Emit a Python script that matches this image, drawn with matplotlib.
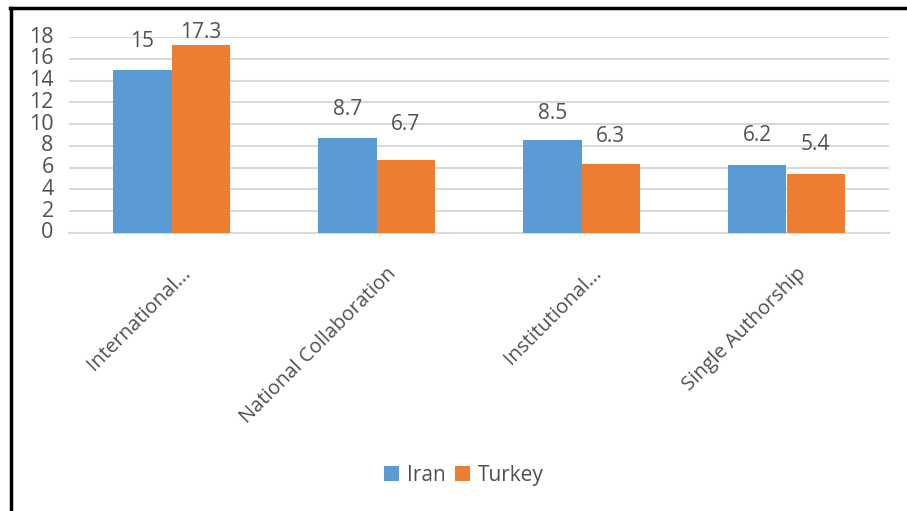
import numpy as np
import matplotlib
matplotlib.use("Agg")
import matplotlib.pyplot as plt
from matplotlib.lines import Line2D
from matplotlib.transforms import ScaledTranslation

# chart data
categories = ["International...", "National Collaboration", "Institutional...", "Single Authorship"]
iran = [15, 8.7, 8.5, 6.2]
turkey = [17.3, 6.7, 6.3, 5.4]
yticks = [0, 2, 4, 6, 8, 10, 12, 14, 16, 18]

blue = "#5B9BD5"
orange = "#ED7D31"
txt = "#505050"
grid = "#D9D9D9"

plt.rcParams['font.family'] = ['Open Sans', 'DejaVu Sans']

fig = plt.figure(figsize=(9.07, 5.11), dpi=100)
ax = fig.add_axes([69/907, 1-233/511, 820/907, 196/511])

x = np.arange(len(categories))
w = 0.283
b1 = ax.bar(x - w/2, iran, w, color=blue, label="Iran", zorder=3)
b2 = ax.bar(x + w/2, turkey, w, color=orange, label="Turkey", zorder=3)

# value labels, pixel gap above each bar (Excel nudges some of them)
off_iran = [28, 29, 27, 30]
off_turkey = [12, 36, 28, 30]
for rect, v, o in zip(b1, iran, off_iran):
    ax.annotate(f"{v:g}", (rect.get_x() + rect.get_width()/2, v), xytext=(0, o*0.72),
                textcoords="offset points", ha="center", va="center",
                fontsize=15, color=txt, annotation_clip=False)
for rect, v, o in zip(b2, turkey, off_turkey):
    ax.annotate(f"{v:g}", (rect.get_x() + rect.get_width()/2, v), xytext=(0, o*0.72),
                textcoords="offset points", ha="center", va="center",
                fontsize=15, color=txt, annotation_clip=False)

ax.set_xlim(-0.5, len(categories) - 0.5)
ax.set_ylim(0, 18)
ax.set_yticks(yticks)
ax.yaxis.grid(True, color=grid, lw=1.5, zorder=0)
ax.tick_params(axis="y", length=0, pad=11, labelsize=15.5, labelcolor=txt)
ax.tick_params(axis="x", length=0, pad=0)
for s in ["left", "right", "top"]:
    ax.spines[s].set_visible(False)
ax.spines["bottom"].set_color(grid)
ax.spines["bottom"].set_linewidth(1.5)
for lab in ax.get_yticklabels():
    lab.set_va("center")

ax.set_xticks(x)
ax.set_xticklabels(categories, rotation=45, ha="right", va="center",
                   rotation_mode="anchor", fontsize=14.5, color=txt)
shift = ScaledTranslation(12/72, -27/72, fig.dpi_scale_trans)
for lab in ax.get_xticklabels():
    lab.set_transform(lab.get_transform() + shift)

leg = ax.legend(loc="center", bbox_to_anchor=(464/907, 1-475/511),
                bbox_transform=fig.transFigure, ncol=2, frameon=False,
                fontsize=15, handlelength=0.7, handleheight=0.7,
                handletextpad=0.4, columnspacing=0.45)
for t in leg.get_texts():
    t.set_color(txt)

# partial border around the chart
fig.add_artist(Line2D([11/907, 11/907], [0, 1-8/511], color="black", lw=2.5,
                      transform=fig.transFigure))
fig.add_artist(Line2D([10/907, 1], [1-8/511, 1-8/511], color="black", lw=2.5,
                      transform=fig.transFigure))

fig.savefig("out.png", dpi=100)
